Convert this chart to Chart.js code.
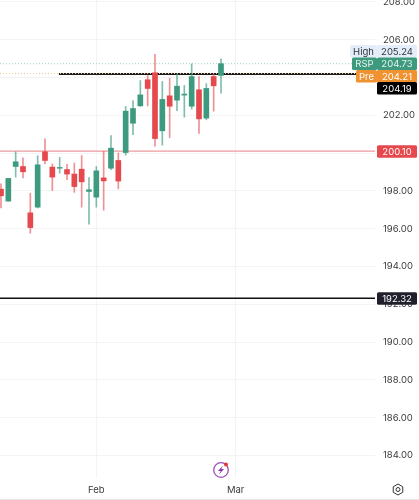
<!DOCTYPE html>
<html>
<head>
<meta charset="utf-8">
<style>
  html, body { margin: 0; padding: 0; background: #fff; overflow: hidden; }
  canvas { display: block; }
</style>
<script src="https://cdn.jsdelivr.net/npm/chart.js@4"></script>
</head>
<body>
<canvas id="chart" width="419" height="500"></canvas>
<script>
const opens  = [198.09,197.46,199.29,199.29,196.84,197.14,200.07,199.26,199.20,199.13,198.89,199.15,197.97,197.67,198.69,199.20,199.61,200.03,201.58,202.50,203.88,204.25,201.18,203.03,202.80,203.07,202.48,203.35,201.85,204.05,204.11];
const highs  = [198.37,198.66,200.07,199.75,197.88,199.86,200.76,199.43,199.77,199.40,199.47,199.87,198.71,199.29,200.09,200.93,200.01,202.47,202.78,203.84,204.11,205.22,203.79,203.97,204.19,203.58,204.72,204.05,203.67,204.19,204.99];
const lows   = [197.10,197.46,198.73,198.69,195.76,197.10,199.43,198.02,198.94,198.59,197.92,197.14,196.24,197.14,196.98,199.12,198.11,199.89,200.98,202.47,202.50,200.37,200.42,200.81,202.24,201.90,202.33,201.04,201.76,202.22,203.17];
const closes = [197.74,198.66,199.54,199.01,196.06,199.38,199.61,198.73,199.24,198.89,198.23,198.48,198.06,199.06,198.53,200.26,198.52,202.22,202.36,203.08,203.42,200.77,202.84,202.48,203.54,203.12,204.05,201.81,203.42,203.56,204.73];

const yTicks = [208,206,204,202,200,198,196,194,192,190,188,186,184];
const monthTicks = [13, 32];
const monthLabels = ["Feb", "Mar"];

const redLevel = 200.10;
const blackLevel = 192.32;
const prevLevel = 204.19;
const rspLevel = 204.73;
const preLevel = 204.21;
const highValue = 205.24;

const GREEN = "#3d9a7f";
const RED = "#e5484d";
const FONT = "Inter, 'Liberation Sans', sans-serif";

const xMin = -0.136, xMax = 51.0;

const upDown = closes.map((c, i) => c >= opens[i]);
const wickData = highs.map((h, i) => ({ x: i, y: [lows[i], h] }));
const bodyData = opens.map((o, i) => ({ x: i, y: [Math.min(o, closes[i]), Math.max(o, closes[i])] }));

function level(value, from, to, color, width, dash, order) {
  return {
    type: "line",
    data: [{ x: from, y: value }, { x: to, y: value }],
    borderColor: color,
    borderWidth: width,
    borderDash: dash,
    pointRadius: 0,
    order: order,
  };
}

function box(ctx, x, y, w, h, bg, fg, text) {
  ctx.fillStyle = bg;
  ctx.beginPath();
  ctx.roundRect(x, y, w, h, 1.5);
  ctx.fill();
  ctx.fillStyle = fg;
  ctx.textBaseline = "middle";
  ctx.textAlign = "center";
  ctx.fillText(text, x + w / 2, y + h / 2 + 0.5);
}

// price tags on the right, plus the small icons
const overlay = {
  id: "overlay",
  afterDraw(chart) {
    const ctx = chart.ctx, y = chart.scales.y;
    ctx.save();
    ctx.font = "9.5px " + FONT;
    box(ctx, 350, 45, 27, 12.5, "#e4edf8", "#2c3440", "High");
    box(ctx, 377, 45, 40, 12.5, "#e4edf8", "#2c3440", highValue.toFixed(2));
    box(ctx, 352, 57.5, 25, 12.5, GREEN, "#e8f4ef", "RSP");
    box(ctx, 377, 57.5, 40, 12.5, GREEN, "#e8f4ef", rspLevel.toFixed(2));
    box(ctx, 356, 70, 21, 12.5, "#f0922f", "#fff", "Pre");
    box(ctx, 377, 70, 40, 12.5, "#f0922f", "#fff", preLevel.toFixed(2));
    box(ctx, 377, 82, 40, 12.5, "#000", "#fff", prevLevel.toFixed(2));
    box(ctx, 377, y.getPixelForValue(redLevel) - 6, 40, 12.5, RED, "#fff", redLevel.toFixed(2));
    box(ctx, 377, y.getPixelForValue(blackLevel) - 6, 40, 12.5, "#20202c", "#fff", blackLevel.toFixed(2));

    // purple bolt
    ctx.strokeStyle = "#a04bb8";
    ctx.lineWidth = 1.3;
    ctx.beginPath();
    ctx.arc(221, 470, 7.3, 0, Math.PI * 2);
    ctx.stroke();
    ctx.fillStyle = "#8a35a8";
    ctx.beginPath();
    ctx.moveTo(223, 465.5);
    ctx.lineTo(218, 471);
    ctx.lineTo(220.7, 471);
    ctx.lineTo(219, 474.5);
    ctx.lineTo(224, 469);
    ctx.lineTo(221.3, 469);
    ctx.closePath();
    ctx.fill();
    ctx.fillStyle = "#e5383b";
    ctx.beginPath();
    ctx.arc(226, 464.5, 2, 0, Math.PI * 2);
    ctx.fill();

    // settings hexagon
    ctx.strokeStyle = "#333";
    ctx.lineWidth = 1;
    ctx.beginPath();
    for (let i = 0; i < 6; i++) {
      const a = Math.PI / 6 + i * Math.PI / 3;
      ctx.lineTo(398 + 5.5 * Math.cos(a), 489.5 + 5.5 * Math.sin(a));
    }
    ctx.closePath();
    ctx.stroke();
    ctx.beginPath();
    ctx.arc(398, 489.5, 2, 0, Math.PI * 2);
    ctx.stroke();

    ctx.strokeStyle = "#e6e6e6";
    ctx.beginPath();
    ctx.moveTo(0, 499.5);
    ctx.lineTo(419, 499.5);
    ctx.stroke();
    ctx.restore();
  },
};

new Chart(document.getElementById("chart"), {
  type: "bar",
  plugins: [overlay],
  data: {
    datasets: [
      {
        data: wickData,
        grouped: false,
        barThickness: 1,
        backgroundColor: upDown.map((u) => (u ? "rgba(61,154,127,0.65)" : "rgba(229,72,77,0.6)")),
        order: 2,
      },
      {
        data: bodyData,
        grouped: false,
        barThickness: 5,
        backgroundColor: upDown.map((u) => (u ? GREEN : RED)),
        order: 1,
      },
      level(rspLevel, xMin, 47.9, "#a3cfc0", 1, [1, 2], 3),
      level(preLevel, xMin, 48.4, "#f5c596", 1, [1, 2], 3),
      level(prevLevel, 7.9, xMax, "#1a1a1a", 2, [], 4),
      level(redLevel, xMin, xMax, "#ee9a9c", 1.2, [], 4),
      level(blackLevel, xMin, xMax, "#111", 1.5, [], 4),
    ],
  },
  options: {
    responsive: false,
    animation: false,
    layout: { padding: 0 },
    plugins: { legend: { display: false }, tooltip: { enabled: false } },
    scales: {
      x: {
        type: "linear",
        offset: false,
        min: xMin,
        max: xMax,
        afterBuildTicks(axis) { axis.ticks = monthTicks.map((v) => ({ value: v })); },
        afterFit(axis) { axis.height = 22; axis.paddingLeft = 0; axis.paddingRight = 0; },
        grid: { color: "#f4f4f4", drawTicks: false, offset: false },
        border: { display: false },
        ticks: {
          autoSkip: false,
          maxRotation: 0,
          padding: 6,
          color: "#3a3a3a",
          font: { family: FONT, size: 9.5 },
          callback: (v) => monthLabels[monthTicks.indexOf(v)],
        },
      },
      y: {
        position: "right",
        min: 182.81,
        max: 208.10,
        afterBuildTicks(axis) { axis.ticks = yTicks.map((v) => ({ value: v })); },
        afterFit(axis) { axis.width = 44; axis.paddingTop = 0; axis.paddingBottom = 0; },
        grid: { color: "#f4f4f4", drawTicks: false },
        border: { display: false },
        ticks: {
          autoSkip: false,
          padding: 8,
          color: "#3a3a3a",
          font: { family: FONT, size: 9.5 },
          callback: (v) => v.toFixed(2),
        },
      },
    },
  },
});
</script>
</body>
</html>
